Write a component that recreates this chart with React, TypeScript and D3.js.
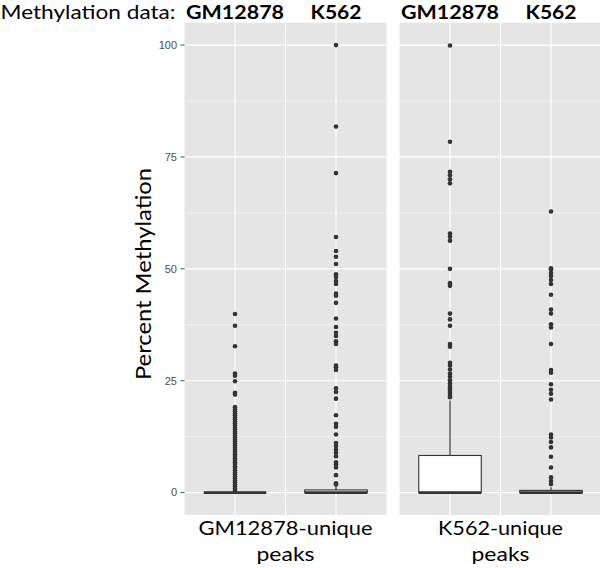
import React from "react";
import * as d3 from "d3";

// ---- data ----
const panels = ["GM12878-unique peaks", "K562-unique peaks"];
const panelLabels = [["GM12878-unique", "peaks"], ["K562-unique", "peaks"]];
const methylationSets = ["GM12878", "K562"];
const yTicks = [0, 25, 50, 75, 100];
const yMinor = [12.5, 37.5, 62.5, 87.5];

// box stats per panel, per methylation set: [q1, median, q3, whiskerLo, whiskerHi]
const boxP1 = [
  [0, 0, 0, 0, 0],
  [0, 0, 0.6, 0, 1.4],
];
const boxP2 = [
  [0, 0, 8.3, 0, 20.6],
  [0, 0, 0.5, 0, 1.2],
];

const outP1GM = [39.9, 37.3, 32.7, 26.6, 26.1, 24.9, 22.3, 21.9, 19.1, 18.6, 18.2, 17.7, 17.3, 16.8, 16.4, 15.9, 15.5, 15.0, 14.5, 14.1, 13.6, 13.2, 12.7, 12.3, 11.8, 11.4, 10.9, 10.5, 10.0, 9.5, 9.1, 8.6, 8.2, 7.7, 7.3, 6.8, 6.4, 5.9, 5.5, 5.0, 4.5, 4.1, 3.6, 3.2, 2.7, 2.3, 1.8, 1.4, 0.9, 0.5];
const outP1K = [100, 81.8, 71.4, 57.1, 54.0, 52.7, 51.1, 48.8, 48.2, 47.3, 46.6, 44.5, 44.0, 42.4, 38.9, 37.0, 35.7, 35.0, 33.8, 33.2, 28.4, 28.0, 27.4, 23.3, 22.5, 21.0, 17.3, 15.4, 14.7, 13.0, 11.1, 10.4, 9.6, 8.9, 8.1, 6.8, 6.3, 5.6, 3.9, 2.1, 1.8];
const outP2GM = [99.9, 78.4, 71.7, 70.9, 70.0, 69.1, 57.9, 57.2, 56.3, 50.0, 46.8, 46.2, 40.0, 38.7, 37.3, 33.2, 32.6, 29.0, 28.4, 27.5, 26.6, 25.9, 25.1, 24.4, 23.8, 23.3, 22.8, 22.3, 21.8, 21.3];
const outP2K = [62.8, 50.1, 49.9, 49.1, 48.4, 47.5, 46.6, 44.2, 40.9, 40.0, 37.6, 36.9, 33.2, 27.4, 26.8, 24.2, 23.0, 22.1, 20.8, 13.0, 12.3, 11.3, 10.1, 8.0, 5.6, 3.4, 2.6, 1.9];

const boxes = [boxP1, boxP2];
const outliers = [[outP1GM, outP1K], [outP2GM, outP2K]];

// ---- layout ----
const W = 600, H = 568;
const panelX = [[184.5, 386.5], [399.5, 601.5]];
const top = 22.7, bottom = 515;
const ink = "#333333";
const calibri = "Lato, 'Open Sans', sans-serif";

export default function App() {
  const y = d3.scaleLinear().domain([-5, 105]).range([bottom, top]);
  const boxW = 62.5;
  return (
    <svg width={W} height={H} style={{ position: "absolute", left: 0, top: 0, background: "#fff" }}>
      <text x={0.5} y={18.5} fontFamily={calibri} fontSize={19} fill="#000" textLength={175} lengthAdjust="spacingAndGlyphs">Methylation data:</text>
      {panels.map((p, pi) => {
        const [x0, x1] = panelX[pi];
        const x = d3.scalePoint<string>().domain(methylationSets).range([x0, x1]).padding(0.5);
        const mid = (x0 + x1) / 2;
        return (
          <g key={p}>
            <rect x={x0} y={top} width={x1 - x0} height={bottom - top} fill="#e5e5e5" />
            {yMinor.map((t) => (
              <line key={"m" + t} x1={x0} x2={x1} y1={y(t)} y2={y(t)} stroke="#f2f2f2" strokeWidth={0.8} />
            ))}
            {yTicks.map((t) => (
              <line key={"g" + t} x1={x0} x2={x1} y1={y(t)} y2={y(t)} stroke="#fff" strokeWidth={1.2} />
            ))}
            <line x1={mid} x2={mid} y1={top} y2={bottom} stroke="#fff" strokeWidth={1.2} />
            {methylationSets.map((m) => (
              <line key={"v" + m} x1={x(m)!} x2={x(m)!} y1={top} y2={bottom} stroke="#fff" strokeWidth={1.2} />
            ))}
            {methylationSets.map((m, mi) => {
              const [q1, med, q3, wlo, whi] = boxes[pi][mi];
              const cx = x(m)!;
              return (
                <g key={"b" + m}>
                  <line x1={cx} x2={cx} y1={y(q3)} y2={y(whi)} stroke={ink} strokeWidth={1.2} />
                  <line x1={cx} x2={cx} y1={y(q1)} y2={y(wlo)} stroke={ink} strokeWidth={1.2} />
                  {outliers[pi][mi].map((v, i) => (
                    <circle key={i} cx={cx} cy={y(v)} r={2.3} fill={ink} />
                  ))}
                  <rect x={cx - boxW / 2} y={y(q3)} width={boxW} height={Math.max(0, y(q1) - y(q3))} fill="#fff" stroke={ink} strokeWidth={1.1} />
                  <line x1={cx - boxW / 2} x2={cx + boxW / 2} y1={y(med)} y2={y(med)} stroke={ink} strokeWidth={2.6} />
                  <text x={cx} y={18.5} textAnchor="middle" fontFamily={calibri} fontWeight={700} fontSize={18} fill="#000" textLength={m === "GM12878" ? 98 : 51} lengthAdjust="spacingAndGlyphs">{m}</text>
                </g>
              );
            })}
            <text x={mid} y={535} textAnchor="middle" fontFamily={calibri} fontSize={20} fill="#000" textLength={pi === 0 ? 174 : 125} lengthAdjust="spacingAndGlyphs">{panelLabels[pi][0]}</text>
            <text x={mid} y={561} textAnchor="middle" fontFamily={calibri} fontSize={20} fill="#000" textLength={58} lengthAdjust="spacingAndGlyphs">{panelLabels[pi][1]}</text>
          </g>
        );
      })}
      {yTicks.map((t) => (
        <g key={"t" + t}>
          <line x1={180.5} x2={184.5} y1={y(t)} y2={y(t)} stroke="#4d4d4d" strokeWidth={1} />
          <text x={177} y={y(t)} dy="0.35em" textAnchor="end" fontFamily="'Liberation Sans', Arial, sans-serif" fontSize={11} fill="#4d4d4d">{t}</text>
        </g>
      ))}
      <text transform={`translate(${151},${274}) rotate(-90)`} textAnchor="middle" fontFamily={calibri} fontSize={21} fill="#000" textLength={212} lengthAdjust="spacingAndGlyphs">Percent Methylation</text>
    </svg>
  );
}
